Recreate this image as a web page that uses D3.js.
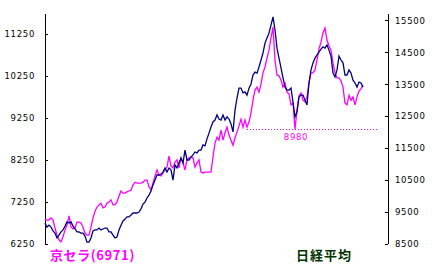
<!DOCTYPE html>
<html>
<head>
<meta charset="utf-8">
<script src="https://cdn.jsdelivr.net/npm/d3@7"></script>
<style>
  html, body { margin: 0; padding: 0; background: #fff; }
  svg { display: block; }
</style>
</head>
<body>
<svg id="chart" width="433" height="273"></svg>
<script>
// 京セラ (left axis, yen) - daily closes
const kyocera = [
  6840, 6820, 6820, 6870, 6820, 6630, 6460, 6350, 6300, 6420,
  6580, 6700, 6920, 6650, 6610, 6630, 6770, 6770, 6750, 6650,
  6510, 6460, 6460, 6650, 6870, 7030, 7130, 7180, 7220, 7110,
  7130, 7220, 7250, 7300, 7180, 7180, 7250, 7390, 7510, 7460,
  7460, 7490, 7510, 7530, 7650, 7720, 7700, 7700, 7700, 7720,
  7770, 7770, 7610, 7530, 7700, 7870, 8010, 7890, 7870, 7940,
  8010, 8080, 8340, 8100, 8060, 8200, 8250, 8060, 8300, 8180,
  8010, 8250, 8300, 8320, 8300, 8080, 8180, 8250, 7960, 7940,
  7960, 7960, 7960, 7960, 8320, 8650, 8790, 8720, 8960, 8720,
  8890, 9030, 8840, 8720, 8600, 8770, 8910, 9060, 9220, 9030,
  9200, 9030, 9150, 9370, 9670, 9910, 9980, 9860, 10050, 10320,
  10460, 10670, 10860, 11150, 11410, 10630, 10270, 10250, 10150, 9980,
  10080, 9860, 9820, 9560, 9600, 8980, 9440, 9770, 9840, 9670,
  9630, 9750, 10080, 10320, 10320, 10390, 10630, 10890, 11050, 11270,
  11390, 11100, 10960, 10860, 10550, 10320, 10200, 10200, 10130, 9980,
  9600, 9560, 9790, 9670, 9750, 9560, 9750, 9890, 9940, 10030
];

// 日経平均 (right axis)
const nikkei = [
  9160, 9030, 9090, 9030, 8910, 8840, 8690, 8780, 8880, 8940,
  9060, 9190, 9160, 9190, 9060, 8970, 8880, 8880, 8840, 8840,
  8750, 8560, 8560, 8690, 8910, 8940, 8940, 9000, 8940, 8970,
  9000, 9000, 8880, 8880, 8780, 8690, 8720, 8940, 9090, 9220,
  9280, 9350, 9350, 9410, 9470, 9470, 9470, 9500, 9600, 9750,
  9810, 9940, 10030, 10160, 10350, 10500, 10660, 10660, 10690, 10750,
  10880, 10750, 10880, 10820, 10500, 10970, 10880, 11040, 11190, 11040,
  11440, 11130, 11130, 11220, 11290, 11380, 11350, 11440, 11440, 11600,
  11570, 11790, 11970, 12160, 12320, 12380, 12540, 12410, 12380, 12540,
  12380, 12480, 12410, 12260, 12010, 12690, 13070, 13380, 13380, 13230,
  13260, 13160, 13380, 13510, 13790, 13880, 13850, 14040, 14260, 14480,
  14790, 14950, 15100, 15350, 15610, 15200, 14630, 14320, 14010, 13700,
  13410, 13320, 13320, 13380, 12950, 12480, 12630, 13100, 13160, 13160,
  13010, 12850, 13540, 13950, 14170, 14320, 14420, 14510, 14600, 14670,
  14630, 14730, 14570, 14380, 13850, 13730, 13950, 14380, 14260, 14170,
  13790, 13790, 13950, 13850, 13630, 13540, 13410, 13570, 13540, 13410
];

const leftTicks = [6250, 7250, 8250, 9250, 10250, 11250];
const rightTicks = [8500, 9500, 10500, 11500, 12500, 13500, 14500, 15500];
const lowMark = 8980;          // 京セラの安値
const lowLineFrom = 101;       // 点線の開始 (日数)
const lowLineTo = 167;         // 点線の終了 (日数)
const labels = { kyocera: '京セラ(6971)', nikkei: '日経平均' };

const svg = d3.select('#chart');
const plot = { left: 45, right: 388, top: 14, bottom: 244 };
const fmt = d3.format('d');

const x = d3.scaleLinear().domain([0, kyocera.length - 1]).range([plot.left, 363]);
const yL = d3.scaleLinear().domain([6250, 11720]).range([plot.bottom, plot.top]);
const yR = d3.scaleLinear().domain([8500, 15700]).range([plot.bottom, plot.top]);

const tickFont = g => g
  .attr('font-family', '"DejaVu Sans", sans-serif')
  .attr('font-size', 8.5)
  .attr('letter-spacing', 0.7);

// left axis, ticks pointing inward
svg.append('g')
  .attr('transform', `translate(${plot.left},0)`)
  .call(d3.axisLeft(yL).tickValues(leftTicks).tickFormat(fmt)
    .tickSize(-3).tickSizeOuter(0).tickPadding(10))
  .call(tickFont)
  .call(g => g.select('.domain').attr('d', `M0.5,${plot.top}V${plot.bottom}`));

// right axis
svg.append('g')
  .attr('transform', `translate(${plot.right},0)`)
  .call(d3.axisRight(yR).tickValues(rightTicks).tickFormat(fmt)
    .tickSize(-3).tickSizeOuter(0).tickPadding(7))
  .call(tickFont)
  .call(g => g.select('.domain').attr('d', `M0.5,${plot.top}V${plot.bottom}`));

svg.selectAll('.tick line').attr('shape-rendering', 'crispEdges');
svg.selectAll('.domain').attr('shape-rendering', 'crispEdges').attr('stroke-width', 1.2);

// dotted low line
const lowIdx = kyocera.lastIndexOf(lowMark);
const lowY = Math.round(yL(lowMark)) + 0.5;
svg.append('line')
  .attr('x1', x(lowLineFrom)).attr('x2', x(lowLineTo))
  .attr('y1', lowY).attr('y2', lowY)
  .attr('stroke', '#ff00ff')
  .attr('stroke-width', 1)
  .attr('stroke-dasharray', '1,2')
  .attr('shape-rendering', 'crispEdges');

svg.append('text')
  .attr('x', x(lowIdx) + 1)
  .attr('y', lowY + 10.5)
  .attr('text-anchor', 'middle')
  .attr('fill', '#ff00ff')
  .call(tickFont)
  .text(fmt(lowMark));

// series
const lineK = d3.line().x((d, i) => x(i)).y(d => yL(d));
const lineN = d3.line().x((d, i) => x(i)).y(d => yR(d));

svg.append('path')
  .datum(kyocera)
  .attr('d', lineK)
  .attr('fill', 'none')
  .attr('stroke', '#ff00ff')
  .attr('stroke-width', 1.3);

svg.append('path')
  .datum(nikkei)
  .attr('d', lineN)
  .attr('fill', 'none')
  .attr('stroke', '#000080')
  .attr('stroke-width', 1.3);

// legend labels
svg.append('text')
  .attr('x', 50).attr('y', 260)
  .attr('fill', '#ff00ff')
  .attr('font-family', '"Noto Sans CJK JP", sans-serif')
  .attr('font-weight', 'bold')
  .attr('font-size', 13)
  .attr('letter-spacing', 0.6)
  .text(labels.kyocera);

svg.append('text')
  .attr('x', 296).attr('y', 260)
  .attr('fill', '#003300')
  .attr('font-family', '"Noto Sans CJK JP", sans-serif')
  .attr('font-weight', 'bold')
  .attr('font-size', 13)
  .attr('letter-spacing', 1)
  .text(labels.nikkei);
</script>
</body>
</html>
